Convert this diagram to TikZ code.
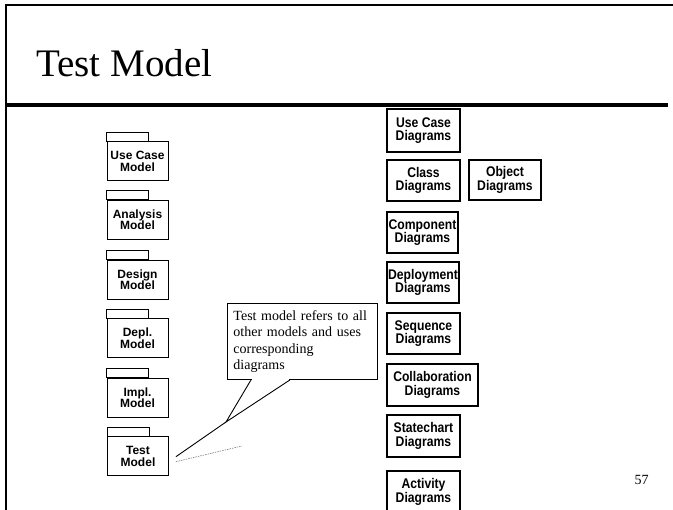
\documentclass[tikz,border=0pt]{standalone}
\usepackage{fontspec}
\setmainfont{Liberation Serif}
\newfontfamily\boxfont{Liberation Sans}
\newfontfamily\narrowfont{Liberation Sans}[FakeStretch=0.87, BoldFont={* Bold}, BoldFeatures={FakeStretch=0.87}]
\usetikzlibrary{calc}
\begin{document}
\begin{tikzpicture}[x=1pt,y=-1pt,
  pkgbody/.style={draw, line width=0.9pt, minimum width=61pt, minimum height=39pt, inner sep=0pt, align=center,
    font=\fontsize{12}{11.5}\selectfont\boxfont\bfseries},
  pkgtab/.style={draw, line width=0.9pt},
  diag/.style={draw, line width=1.2pt, minimum height=41pt, inner sep=0pt, align=center,
    font=\fontsize{14}{13.3}\selectfont\narrowfont\bfseries},
  frameline/.style={line width=2pt},
  rule/.style={line width=3.5pt},
  notebox/.style={draw, line width=0.9pt, anchor=north west, minimum width=150pt, minimum height=76pt,
    text width=138pt, inner xsep=6pt, inner ysep=0pt, align=left, font=\fontsize{14}{16.3}\selectfont},
  pointer/.style={line width=0.9pt},
  dotline/.style={gray, line width=0.6pt, dash pattern=on 1.5pt off 1pt}
]
\useasboundingbox (0,0) rectangle (673,510);
\clip (0,0) rectangle (673,510);
\fill[white] (0,0) rectangle (673,510);

% frame
\draw[frameline] (6,510) -- (6,5) -- (673,5);
\draw[rule] (6,105) -- (668,105);

% title
\node[anchor=base west, inner sep=0pt, font=\fontsize{39}{42}\selectfont] (title) at (36,77) {Test Model};

% packages
\node[pkgbody] (ucm) at (137.5,161.3) {Use Case\\Model};
\node[pkgbody] (anm) at (137.5,219.7) {Analysis\\Model};
\node[pkgbody] (dsm) at (137.5,279.8) {Design\\Model};
\node[pkgbody] (dpm) at (137.5,338.4) {Depl.\\Model};
\node[pkgbody] (imm) at (137.5,397.8) {Impl.\\Model};
\node[pkgbody] (tm) at (138,456.2) {Test\\Model};
\foreach \p in {ucm,anm,dsm,dpm,imm,tm}
  \draw[pkgtab] (\p.north west) rectangle ++(42,-9);

% diagram boxes
\node[diag, minimum width=73pt, minimum height=43pt] (ucd) at (423.5,130.5) {Use Case\\Diagrams};
\node[diag, minimum width=73pt] (cld) at (423.5,180.5) {Class\\Diagrams};
\node[diag, minimum width=72pt, minimum height=40pt] (obd) at (505,180) {Object\\Diagrams};
\node[diag, minimum width=71pt] (cpd) at (422.5,232.5) {Component\\Diagrams};
\node[diag, minimum width=72pt] (dpd) at (423,282.5) {Deployment\\Diagrams};
\node[diag, minimum width=73pt] (sqd) at (423.5,333.5) {Sequence\\Diagrams};
\node[diag, minimum width=91pt, minimum height=42pt] (cod) at (432.5,385) {Collaboration\\Diagrams};
\node[diag, minimum width=73pt, minimum height=42pt] (scd) at (423.5,436) {Statechart\\Diagrams};
\node[diag, minimum width=73pt, minimum height=42pt] (acd) at (423.5,492) {Activity\\Diagrams};

% note
\node[notebox] (note) at (227,303) {Test model refers to all\\other models and uses\\corresponding\\diagrams};
\coordinate (tip) at (226,422);
\coordinate (tmend) at ($(tm.east)+(7,0.5)$);
\coordinate (dotstart) at ($(tm.east)+(7,5.5)$);
\coordinate (dotend) at (242,446);
\draw[white, line width=1.6pt] ($(note.south west)+(25,0)$) -- ($(note.south west)+(62,0)$);
\draw[pointer, line join=miter] ($(note.south west)+(24,0)$) -- (tip) -- ($(note.south west)+(63,0)$);
\draw[pointer] (tip) -- (tmend);
\draw[dotline] (dotstart) -- (dotend);

% page number
\node[anchor=base, inner sep=0pt, font=\fontsize{14}{16}\selectfont] (pg) at (641.5,485) {57};
\end{tikzpicture}
\end{document}
